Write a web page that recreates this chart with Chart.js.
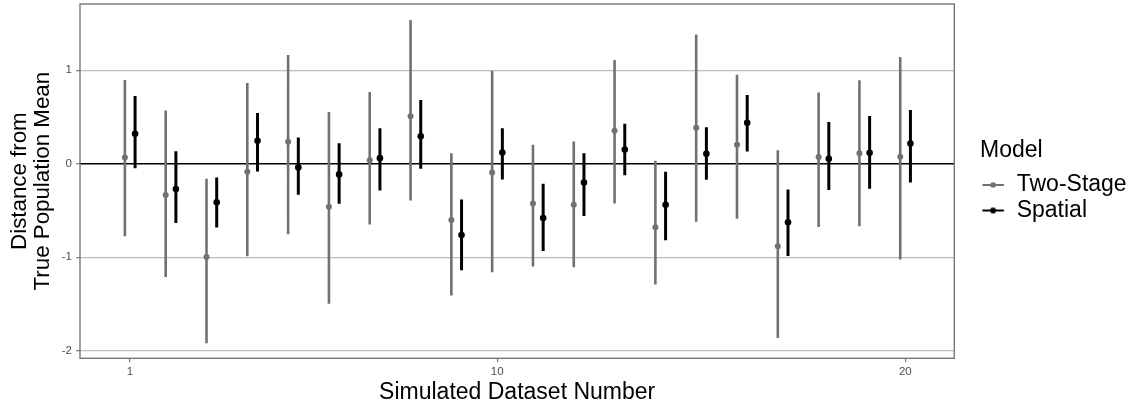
<!DOCTYPE html>
<html>
<head>
<meta charset="utf-8">
<script src="https://cdn.jsdelivr.net/npm/chart.js@4.4.1/dist/chart.umd.min.js"></script>
<style>
  html, body { margin: 0; padding: 0; background: #ffffff; }
  canvas { display: block; }
</style>
</head>
<body>
<canvas id="c" width="1135" height="409"></canvas>
<script>
// ---- data ----
const datasetNumbers = [1,2,3,4,5,6,7,8,9,10,11,12,13,14,15,16,17,18,19,20];
const modelNames = ['Two-Stage', 'Spatial'];
const twoStageEst   = [0.067,-0.335,-0.997,-0.085,0.235,-0.459,0.038,0.508,-0.602,-0.093,-0.424,-0.438,0.352,-0.680,0.384,0.203,-0.883,0.071,0.113,0.075];
const twoStageLower = [-0.776,-1.210,-1.921,-0.989,-0.755,-1.498,-0.651,-0.392,-1.409,-1.160,-1.099,-1.107,-0.424,-1.291,-0.619,-0.587,-1.864,-0.676,-0.669,-1.025];
const twoStageUpper = [0.896,0.569,-0.160,0.864,1.163,0.555,0.768,1.537,0.113,0.996,0.203,0.238,1.110,0.032,1.383,0.953,0.145,0.761,0.893,1.142];
const spatialEst    = [0.320,-0.271,-0.413,0.245,-0.039,-0.114,0.060,0.295,-0.762,0.121,-0.581,-0.200,0.153,-0.438,0.107,0.438,-0.626,0.053,0.117,0.217];
const spatialLower  = [-0.047,-0.634,-0.683,-0.082,-0.331,-0.427,-0.285,-0.053,-1.139,-0.168,-0.933,-0.559,-0.122,-0.819,-0.171,0.131,-0.986,-0.281,-0.267,-0.200];
const spatialUpper  = [0.726,0.134,-0.146,0.544,0.281,0.220,0.380,0.683,-0.381,0.380,-0.213,0.113,0.427,-0.085,0.391,0.736,-0.274,0.448,0.512,0.576];
const xTickValues = [1, 10, 20];
const yTickValues = [-2, -1, 0, 1];

// ---- styling / layout ----
const GREY = '#717171';
const BLACK = '#000000';
const DODGE = 0.125;
const X_MIN = -0.225, X_MAX = 21.20;
const Y_MIN = -2.081, Y_MAX = 1.709;
const LEGEND_GAP = 25.7;   // space between panel and legend
const LEGEND_W = 155;      // legend box width
const FONT = "'Liberation Sans', Arial, Helvetica, sans-serif";
Chart.defaults.font.family = FONT;

function rangeData(offset, lower, upper) {
  const out = [];
  datasetNumbers.forEach((n, i) => {
    out.push({x: n + offset, y: lower[i]});
    out.push({x: n + offset, y: upper[i]});
    out.push({x: n + offset, y: null});
  });
  return out;
}
function pointData(offset, est) {
  return datasetNumbers.map((n, i) => ({x: n + offset, y: est[i]}));
}
function legendSymbol(color, lw, r) {
  const c = document.createElement('canvas');
  c.width = 24; c.height = 10;
  const g = c.getContext('2d');
  g.strokeStyle = color; g.lineWidth = lw;
  g.beginPath(); g.moveTo(0.5, 5); g.lineTo(22, 5); g.stroke();
  g.fillStyle = color;
  g.beginPath(); g.arc(11.2, 5, r, 0, Math.PI * 2); g.fill();
  return c;
}
const symTwo = legendSymbol(GREY, 2, 2.8);
const symSpa = legendSymbol(BLACK, 2, 3.0);

const panelBorder = {
  id: 'panelBorder',
  afterDatasetsDraw(chart) {
    const {ctx, chartArea: a} = chart;
    ctx.save();
    ctx.strokeStyle = '#777777';
    ctx.lineWidth = 1.4;
    ctx.strokeRect(a.left, a.top, a.right - a.left, a.bottom - a.top);
    ctx.restore();
  }
};
const legendWidth = {
  id: 'legendWidth',
  afterInit(chart) {
    const lg = chart.legend;
    if (!lg || lg.__patched) return;
    const orig = lg.fit.bind(lg);
    lg.fit = function () { orig(); this.width = LEGEND_W; };
    lg.__patched = true;
  }
};

new Chart(document.getElementById('c'), {
  type: 'line',
  data: {
    datasets: [
      {label: modelNames[0], data: rangeData(-DODGE, twoStageLower, twoStageUpper),
       borderColor: GREY, borderWidth: 2.6, pointRadius: 0, spanGaps: false, borderCapStyle: 'butt', fill: false},
      {label: modelNames[1], data: rangeData(DODGE, spatialLower, spatialUpper),
       borderColor: BLACK, borderWidth: 3, pointRadius: 0, spanGaps: false, borderCapStyle: 'butt', fill: false},
      {label: modelNames[0] + ' estimate', data: pointData(-DODGE, twoStageEst), showLine: false,
       pointRadius: 3, pointBackgroundColor: GREY, pointBorderWidth: 0, borderColor: GREY},
      {label: modelNames[1] + ' estimate', data: pointData(DODGE, spatialEst), showLine: false,
       pointRadius: 3.3, pointBackgroundColor: BLACK, pointBorderWidth: 0, borderColor: BLACK}
    ]
  },
  options: {
    responsive: false,
    animation: false,
    events: [],
    layout: {padding: {top: 3.3, left: 0, bottom: 0, right: 0}},
    plugins: {
      tooltip: {enabled: false},
      legend: {
        display: true,
        position: 'right',
        align: 'start',
        title: {display: true, text: 'Model', color: '#000', position: 'start',
                font: {size: 23, family: FONT, lineHeight: 1.2}, padding: {top: 136, bottom: 4.1}},
        labels: {
          font: {size: 23, family: FONT},
          color: '#000',
          padding: 2.5,
          usePointStyle: true,
          pointStyleWidth: 22.7,
          generateLabels: () => [
            {text: modelNames[0], pointStyle: symTwo, fillStyle: GREY, strokeStyle: GREY, lineWidth: 0, hidden: false, datasetIndex: 0, fontColor: '#000'},
            {text: modelNames[1], pointStyle: symSpa, fillStyle: BLACK, strokeStyle: BLACK, lineWidth: 0, hidden: false, datasetIndex: 1, fontColor: '#000'}
          ]
        }
      }
    },
    scales: {
      x: {
        type: 'linear',
        min: X_MIN, max: X_MAX,
        afterBuildTicks: s => { s.ticks = xTickValues.map(v => ({value: v})); },
        afterFit: s => { s.height = 50.7; s.paddingLeft = 0; s.paddingRight = 0; },
        border: {display: false},
        grid: {display: true, drawOnChartArea: false, drawTicks: true, tickLength: 4, color: '#777777', tickColor: '#777777', lineWidth: 1.2},
        ticks: {font: {size: 11.5}, color: '#4d4d4d', padding: 3, autoSkip: false, maxRotation: 0, callback: v => String(v)},
        title: {display: true, text: 'Simulated Dataset Number', color: '#000',
                font: {size: 23, lineHeight: 1.2}, padding: {top: 0, bottom: 2.7}}
      },
      y: {
        type: 'linear',
        min: Y_MIN, max: Y_MAX,
        afterBuildTicks: s => { s.ticks = yTickValues.map(v => ({value: v})); },
        afterFit: s => { s.width = 80; s.paddingTop = 0; s.paddingBottom = 0; },
        border: {display: false},
        grid: {
          display: true, drawOnChartArea: true, drawTicks: true, tickLength: 4,
          color: c => (c.tick && c.tick.value === 0) ? '#000000' : '#bdbdbd',
          lineWidth: c => (c.tick && c.tick.value === 0) ? 1.4 : 1.3,
          tickColor: '#777777', tickWidth: 1.2
        },
        ticks: {font: {size: 11.5}, color: '#4d4d4d', padding: 4, callback: v => String(v)},
        title: {display: true, text: ['Distance from', 'True Population Mean'], color: '#000',
                font: {size: 22.3, lineHeight: 1.0}, padding: {top: 9, bottom: 0}}
      },
      gap: {
        type: 'linear',
        position: 'right',
        display: true,
        afterFit: s => { s.width = LEGEND_GAP; s.paddingTop = 0; s.paddingBottom = 0; },
        border: {display: false},
        grid: {display: false, drawOnChartArea: false, drawTicks: false},
        ticks: {display: false},
        title: {display: false}
      }
    }
  },
  plugins: [panelBorder, legendWidth]
});
</script>
</body>
</html>
